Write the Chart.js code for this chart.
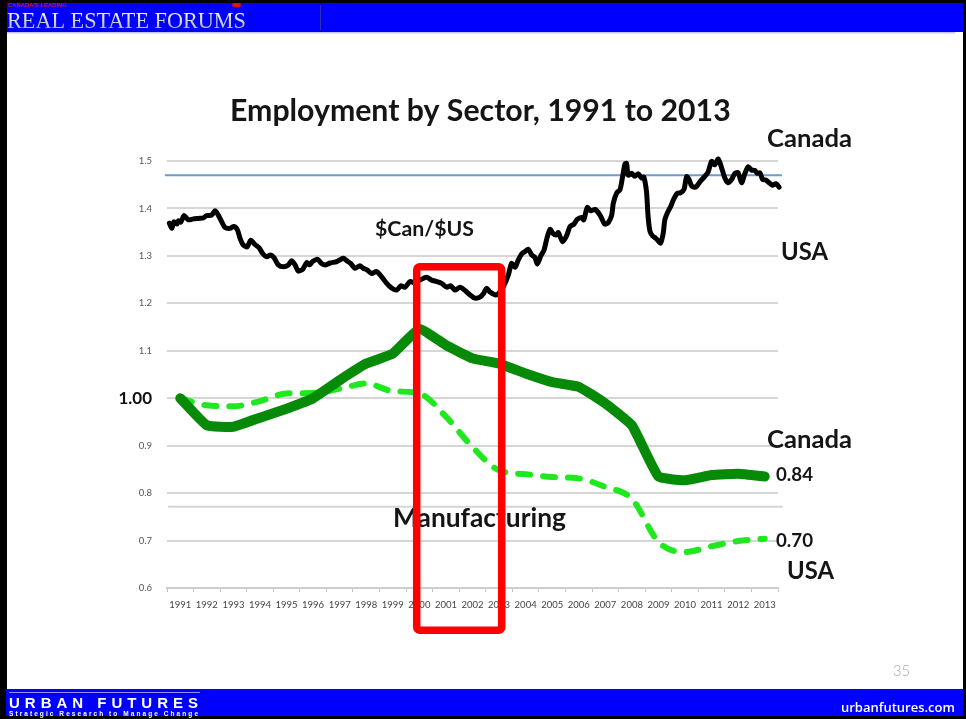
<!DOCTYPE html>
<html><head><meta charset="utf-8">
<script src="https://cdn.jsdelivr.net/npm/chart.js@4.4.1/dist/chart.umd.min.js"></script>
<style>html,body{margin:0;padding:0;background:#000;overflow:hidden}canvas{display:block}</style>
</head><body>
<canvas id="c" width="966" height="719"></canvas>
<script>
// ---------- data ----------
const years = ['1991','1992','1993','1994','1995','1996','1997','1998','1999','2000','2001','2002','2003','2004','2005','2006','2007','2008','2009','2010','2011','2012','2013'];
const canadaMfg = [1.000,0.943,0.940,0.959,0.978,1.000,1.038,1.073,1.094,1.146,1.112,1.084,1.073,1.052,1.034,1.024,0.989,0.943,0.835,0.827,0.838,0.841,0.835];
const usaMfg    = [1.000,0.985,0.983,0.994,1.010,1.011,1.020,1.031,1.015,1.010,0.961,0.897,0.848,0.840,0.834,0.831,0.813,0.788,0.697,0.676,0.688,0.699,0.704];
const yMin = 0.6, yMax = 1.5, yStep = 0.1;

// $Can/$US exchange-rate trace (decimal year, rate)
const fxYear = [1990.59,1990.68,1990.76,1990.87,1990.93,1991.02,1991.14,1991.30,1991.49,1991.68,
1991.87,1991.99,1992.18,1992.31,1992.43,1992.56,1992.68,1992.87,1993.02,1993.15,
1993.25,1993.37,1993.52,1993.65,1993.81,1993.97,1994.10,1994.25,1994.40,1994.53,
1994.69,1994.88,1995.07,1995.19,1995.32,1995.44,1995.61,1995.76,1995.86,1995.98,
1996.16,1996.32,1996.47,1996.64,1996.89,1997.14,1997.26,1997.41,1997.58,1997.76,
1997.89,1998.04,1998.20,1998.39,1998.58,1998.77,1998.96,1999.15,1999.30,1999.46,
1999.65,1999.83,2000.02,2000.27,2000.46,2000.65,2000.84,2001.03,2001.18,2001.34,
2001.53,2001.72,2001.90,2002.09,2002.28,2002.43,2002.53,2002.66,2002.85,2002.97,
2003.16,2003.35,2003.47,2003.60,2003.72,2003.85,2003.97,2004.10,2004.23,2004.35,
2004.44,2004.57,2004.69,2004.81,2004.92,2005.02,2005.14,2005.23,2005.39,2005.54,
2005.67,2005.82,2005.94,2006.11,2006.19,2006.32,2006.45,2006.61,2006.80,2006.98,
2007.11,2007.24,2007.30,2007.43,2007.55,2007.65,2007.74,2007.80,2007.86,2007.99,
2008.11,2008.24,2008.37,2008.45,2008.55,2008.61,2008.68,2008.78,2008.90,2008.99,
2009.08,2009.18,2009.24,2009.33,2009.46,2009.56,2009.71,2009.83,2009.96,2010.06,
2010.16,2010.25,2010.41,2010.56,2010.75,2010.87,2011.00,2011.12,2011.25,2011.38,
2011.50,2011.62,2011.75,2011.88,2012.00,2012.13,2012.25,2012.38,2012.50,2012.63,
2012.72,2012.82,2012.92,2013.04,2013.17,2013.29,2013.42,2013.54,2013.67];
const fxRate = [1.369,1.358,1.372,1.367,1.374,1.371,1.385,1.376,1.378,1.379,
1.380,1.385,1.386,1.395,1.386,1.372,1.360,1.358,1.362,1.355,
1.337,1.323,1.319,1.333,1.324,1.317,1.305,1.298,1.302,1.296,
1.281,1.277,1.281,1.290,1.281,1.268,1.272,1.286,1.281,1.288,
1.293,1.284,1.281,1.285,1.288,1.295,1.290,1.284,1.274,1.279,
1.274,1.270,1.263,1.267,1.256,1.242,1.232,1.228,1.237,1.234,
1.246,1.243,1.249,1.255,1.249,1.246,1.242,1.234,1.237,1.228,
1.234,1.227,1.218,1.211,1.213,1.222,1.232,1.224,1.218,1.220,
1.235,1.260,1.284,1.276,1.291,1.304,1.309,1.314,1.302,1.297,
1.283,1.300,1.312,1.339,1.356,1.348,1.344,1.349,1.330,1.342,
1.362,1.367,1.377,1.381,1.376,1.402,1.395,1.398,1.386,1.367,
1.370,1.386,1.411,1.433,1.439,1.467,1.494,1.495,1.470,1.474,
1.468,1.473,1.464,1.466,1.435,1.383,1.352,1.342,1.337,1.332,
1.327,1.348,1.376,1.390,1.404,1.418,1.432,1.433,1.440,1.467,
1.460,1.447,1.445,1.456,1.468,1.477,1.499,1.492,1.504,1.485,
1.464,1.454,1.461,1.474,1.475,1.454,1.473,1.488,1.481,1.480,
1.474,1.475,1.461,1.460,1.454,1.449,1.452,1.445,1.432];

const parityLevel = 1.47;          // blue reference line
const parityFrom = 1990.42, parityTo = 2013.65;
const strayLevel = 0.771;          // faint grey line in the slide
const strayFrom = 1990.54, strayTo = 2013.68;
const highlight = {from: 1999.90, to: 2003.10, top: 1.277, bottom: 0.511};

// ---------- helpers ----------
function fitText(c, txt, left, base, w, weight, fam, color) {
  c.font = `${weight} 100px ${fam}`;
  const m = c.measureText(txt).width;
  c.font = `${weight} ${100 * w / m}px ${fam}`;
  c.fillStyle = color; c.textAlign = 'left'; c.textBaseline = 'alphabetic';
  c.fillText(txt, left, base);
}
function spacedText(c, txt, left, base, w, font, color) {
  c.font = font; c.fillStyle = color; c.textAlign = 'left'; c.textBaseline = 'alphabetic';
  const ws = [...txt].map(ch => c.measureText(ch).width);
  const total = ws.reduce((a, b) => a + b, 0);
  const gap = (w - total) / (txt.length - 1);
  let x = left;
  [...txt].forEach((ch, i) => { c.fillText(ch, x, base); x += ws[i] + gap; });
}

const slide = {
  id: 'slide',
  beforeDraw(chart) {
    const c = chart.ctx; c.save();
    c.fillStyle = '#000'; c.fillRect(0, 0, 966, 719);
    c.fillStyle = '#fff'; c.fillRect(7, 3, 956, 713);
    c.fillStyle = '#0000ff'; c.fillRect(7, 3, 956, 29);
    c.fillStyle = '#c6c6f6'; c.fillRect(7, 32, 948, 1.5);
    c.strokeStyle = '#3030a8'; c.lineWidth = 1;
    c.beginPath(); c.moveTo(320.5, 5); c.lineTo(320.5, 30); c.stroke();
    // header
    fitText(c, "CANADA'S LEADING", 8, 7, 59, 'bold', '"Liberation Sans"', '#e01010');
    c.fillStyle = '#e31010'; c.beginPath(); c.ellipse(236.5, 5, 4.5, 2.5, 0, 0, Math.PI * 2); c.fill();
    c.fillStyle = '#000'; c.fillRect(0, 0, 966, 3);
    const g = c.createLinearGradient(0, 10, 0, 29);
    g.addColorStop(0, '#ffffff'); g.addColorStop(1, '#b4b4b4');
    fitText(c, 'REAL ESTATE FORUMS', 7, 28, 239, 'normal', '"Liberation Serif"', g);
    // footer
    c.fillStyle = '#0000ff'; c.fillRect(6, 689, 957, 27);
    c.fillStyle = '#8c8cff'; c.fillRect(9, 692, 191, 1);
    spacedText(c, 'URBAN FUTURES', 9, 708, 189, 'bold 15px "Liberation Sans"', '#ffffff');
    spacedText(c, 'Strategic Research to Manage Change', 9, 716, 189, 'bold 6.5px "Liberation Sans"', '#ffffff');
    fitText(c, 'urbanfutures.com', 841, 712, 114, '600', '"Open Sans"', '#ffffff');
    fitText(c, '35', 893, 676, 17, '300', 'Lato', '#a8a8a8');
    c.restore();
  },
  afterDraw(chart) {
    const c = chart.ctx; c.save();
    const F = 'Lato';
    fitText(c, 'Employment by Sector, 1991 to 2013', 230, 121, 501, 'bold', F, '#151515');
    fitText(c, 'Canada', 767, 147, 85, 'bold', F, '#151515');
    fitText(c, 'USA', 781, 260, 47, 'bold', F, '#151515');
    fitText(c, '$Can/$US', 375, 236, 99, 'bold', F, '#151515');
    fitText(c, 'Manufacturing', 393, 527, 173, 'bold', F, '#151515');
    fitText(c, 'Canada', 767, 448, 85, 'bold', F, '#151515');
    fitText(c, '0.84', 776, 481, 37, 'bold', F, '#151515');
    fitText(c, '0.70', 776, 547, 37, 'bold', F, '#151515');
    fitText(c, 'USA', 787, 579, 47, 'bold', F, '#151515');
    // red highlight box
    const xs = chart.scales.x2, ys = chart.scales.y;
    const l = xs.getPixelForValue(highlight.from), r = xs.getPixelForValue(highlight.to);
    const t = ys.getPixelForValue(highlight.top), b = ys.getPixelForValue(highlight.bottom);
    c.strokeStyle = '#ff0000'; c.lineWidth = 7.5; c.lineJoin = 'round';
    c.beginPath(); c.roundRect(l, t, r - l, b - t, 3); c.stroke();
    c.restore();
  }
};

const isOne = v => Math.abs(v - 1) < 1e-6;

new Chart(document.getElementById('c'), {
  type: 'line',
  data: {
    labels: years,
    datasets: [
      { label: '$Can/$US', xAxisID: 'x2', data: fxYear.map((x, i) => ({x, y: fxRate[i]})),
        borderColor: '#000', borderWidth: 5, pointRadius: 0, tension: 0.25,
        borderJoinStyle: 'round', borderCapStyle: 'round', clip: false },
      { label: 'Canada', data: canadaMfg, borderColor: '#078a07', borderWidth: 10,
        pointRadius: 0, tension: 0.12, borderJoinStyle: 'round', borderCapStyle: 'round' },
      { label: 'USA', data: usaMfg, borderColor: '#1fe81f', borderWidth: 6,
        borderDash: [12, 13], borderCapStyle: 'round', pointRadius: 0,
        cubicInterpolationMode: 'monotone' },
      { label: 'parity', xAxisID: 'x2', data: [{x: parityFrom, y: parityLevel}, {x: parityTo, y: parityLevel}],
        borderColor: '#6e9bd2', borderWidth: 2, pointRadius: 0, clip: false },
      { label: 'stray', xAxisID: 'x2', data: [{x: strayFrom, y: strayLevel}, {x: strayTo, y: strayLevel}],
        borderColor: '#d6d6d6', borderWidth: 2, pointRadius: 0, clip: false }
    ]
  },
  options: {
    responsive: false, animation: false, devicePixelRatio: 1,
    layout: { padding: { left: 0, right: 188, top: 161, bottom: 0 } },
    plugins: { legend: { display: false }, tooltip: { enabled: false }, title: { display: false } },
    scales: {
      x: {
        type: 'category', offset: true,
        grid: { drawOnChartArea: false, drawTicks: true, tickLength: 4, color: '#c4c4c4', lineWidth: 1, offset: true },
        border: { display: true, color: '#cdcdcd', width: 2 },
        ticks: { font: { family: 'Lato', size: 9.5 }, color: '#444', padding: 7, maxRotation: 0, autoSkip: false },
        afterFit(s) { s.height = 131; }
      },
      x2: { type: 'linear', display: false, min: 1990.5, max: 2013.5 },
      y: {
        min: yMin, max: yMax,
        ticks: {
          stepSize: yStep, padding: 15,
          callback: v => isOne(v) ? '1.00' : Number(v).toFixed(1),
          font: ctx => (ctx.tick && isOne(ctx.tick.value)) ? { family: 'Lato', size: 17, weight: 'bold' } : { family: 'Lato', size: 9.5 },
          color: ctx => (ctx.tick && isOne(ctx.tick.value)) ? '#111' : '#555'
        },
        grid: { color: '#d6d6d6', lineWidth: 2, drawTicks: false },
        border: { display: false },
        afterFit(s) { s.width = 167; }
      }
    }
  },
  plugins: [slide]
});
</script>
</body></html>
